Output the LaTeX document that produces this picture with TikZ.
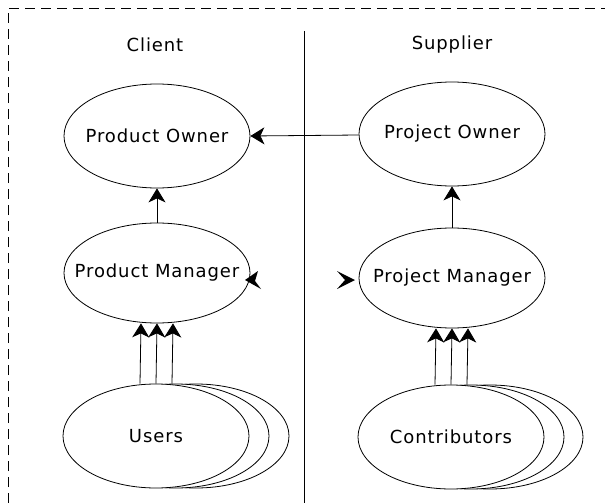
\documentclass[tikz,border=0pt]{standalone}
\usepackage{fontspec}
\setmainfont[LetterSpace=5]{DejaVu Sans}
\usetikzlibrary{arrows.meta,shapes.geometric}

\tikzset{
  role/.style={draw=black, line width=0.8pt, fill=white, ellipse,
    minimum width=186pt, minimum height=104pt, inner sep=-40pt,
    font=\fontsize{18}{20}\selectfont},
  heading/.style={font=\fontsize{18}{20}\selectfont},
  link/.style={draw=black, line width=0.8pt,
    -{Stealth[length=14pt, width=17pt, inset=4pt]}},
  frame/.style={draw=black, line width=0.9pt, dash pattern=on 10pt off 6pt},
  loosehead/.style={fill=black},
}

\begin{document}
\begin{tikzpicture}[x=1pt, y=-1pt]
  \useasboundingbox (0,0) rectangle (605,503);

  % dashed frame and the divider between the two sides
  \draw[frame] (8,503) -- (8,8) -- (605,8);
  \draw[line width=0.8pt] (304,31) -- (304,503);

  % side headings
  \node[heading] (client) at (155,45) {Client};
  \node[heading] (supplier) at (452,45) {Supplier};

  % client side
  \node[role] (po) at (157,136) {Product Owner};
  \node[role, minimum height=100pt] (pm) at (157,273) {Product Manager};
  \node[role] (u3) at (196,436) {};
  \node[role] (u2) at (176,436) {};
  \node[role] (u1) at (156,436) {Users};

  % supplier side
  \node[role] (pjo) at (452,134) {Project Owner};
  \node[role, minimum height=100pt] (pjm) at (452,278) {Project Manager};
  \node[role] (c3) at (490,437) {};
  \node[role] (c2) at (471,437) {};
  \node[role] (c1) at (451,437) {Contributors};

  % reporting lines
  \draw[link] ([yshift=-1pt]pjo.west) -- (po.east);
  \draw[link] (pm.north) -- (po.south);
  \draw[link] (pjm.north) -- (pjo.south);
  \foreach \dx in {-16,0,16} {
    \draw[link] ([xshift=\dx pt]u1.north) -- ([xshift=\dx pt]pm.south);
    \draw[link] ([xshift=\dx pt]c1.north) -- ([xshift=\dx pt]pjm.south);
  }

  % loose arrow heads between the two managers
  \coordinate (lt) at (245,280);
  \coordinate (rt) at (355,280);
  \fill[loosehead] (lt) -- ++(13,-9) -- ++(-3,10) -- ++(6,8) -- cycle;
  \fill[loosehead] (rt) -- ++(-18,-9) -- ++(8,9) -- ++(-8,9) -- cycle;
\end{tikzpicture}
\end{document}
